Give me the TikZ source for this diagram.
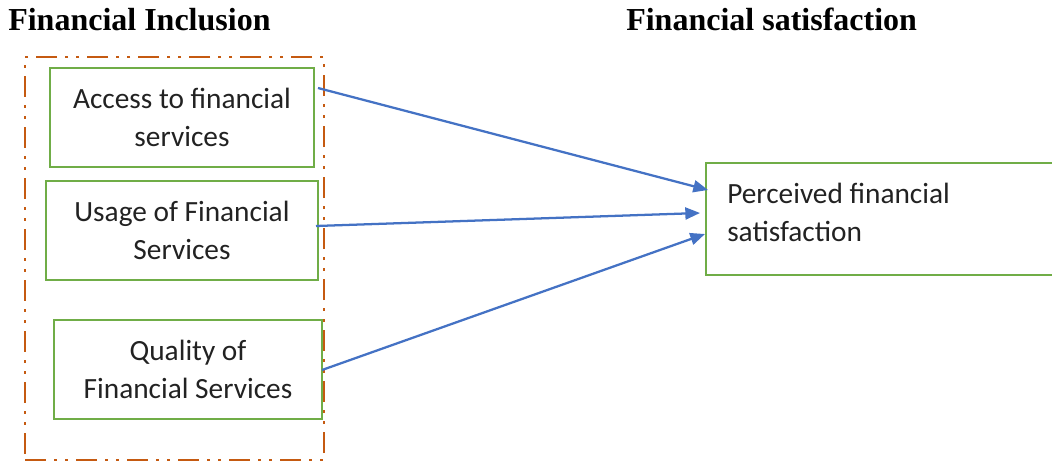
\documentclass[tikz,border=0pt]{standalone}
\usepackage{fontspec}
\setmainfont{Liberation Serif}
\newfontfamily\boxfont{Carlito}
\usetikzlibrary{arrows.meta,calc}
\definecolor{gboxc}{HTML}{70AD47}
\definecolor{oboxc}{HTML}{C55A11}
\definecolor{arrc}{HTML}{4472C4}
\definecolor{txtc}{HTML}{222222}
\begin{document}
\begin{tikzpicture}[x=0.75pt,y=-0.75pt,
  gbox/.style={draw=gboxc,line width=1.9pt,inner sep=0pt,outer sep=0pt,
    align=center,text=txtc,font=\boxfont\fontsize{22}{28.5}\selectfont},
  title/.style={font=\bfseries\fontsize{24}{28}\selectfont,inner sep=0pt,anchor=base west,text=black},
  arr/.style={draw=arrc,line width=1.7pt,-{Triangle[length=11pt,width=9pt]}},
  grp/.style={draw=oboxc,line width=2.1pt,
    dash pattern=on 15.75pt off 6pt on 2.25pt off 6pt on 2.25pt off 6pt}]
\useasboundingbox (0,0) rectangle (1052,461);
\node[title] (t1) at (8,30) {Financial Inclusion};
\node[title] (t2) at (626,30) {Financial satisfaction};
\node[grp,minimum width=224.25pt,minimum height=302.25pt,inner sep=0pt] (grp) at (174.5,258.5) {};
\node[gbox,minimum width=198pt,minimum height=74.25pt] (b1) at (182,117.5) {Access to financial\\services};
\node[gbox,minimum width=204pt,minimum height=74.25pt] (b2) at (182,230.5) {Usage of Financial\\Services};
\node[gbox,minimum width=201pt,minimum height=74.25pt] (b3) at (188,369.5) {Quality of\\Financial Services};
\node[gbox,minimum width=265.5pt,minimum height=84pt] (ps) at (883,219) {};
\node[anchor=west,inner sep=0pt,align=left,text=txtc,font=\boxfont\fontsize{22}{28.5}\selectfont] (pst) at (727,212) {Perceived financial\\satisfaction};
\draw[arr] ($(b1.east)+(4,-29.5)$) -- ($(ps.west)+(2,-29)$);
\draw[arr] ($(b2.east)+(-2,-4.5)$) -- ($(ps.west)+(-6,-6)$);
\draw[arr] ($(b3.east)+(0,0.5)$) -- ($(ps.west)+(-1,15)$);
\end{tikzpicture}
\end{document}
